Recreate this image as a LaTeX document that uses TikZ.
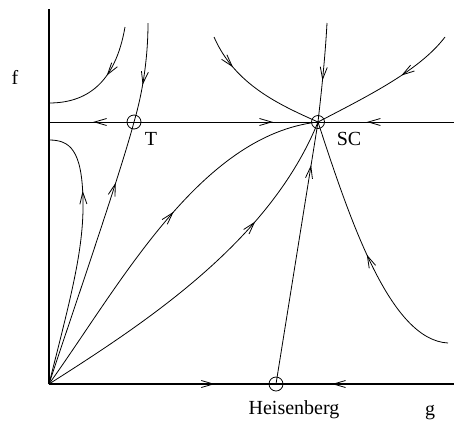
\documentclass[tikz,border=0pt]{standalone}
\usepackage{fontspec}
\setmainfont{Liberation Serif}
\usetikzlibrary{arrows.meta, decorations.markings}

\begin{document}
\begin{tikzpicture}[
    x=1pt, y=-1pt,
    axis/.style={line width=1.4pt},
    flow/.style={line width=0.8pt},
    fixpt/.style={circle, draw, line width=0.8pt, minimum size=14pt, inner sep=0pt},
    lbl/.style={font=\fontsize{20}{24}\selectfont, anchor=base, inner sep=0pt},
    arr/.style={postaction={decorate}, decoration={markings, mark=at position #1 with {\arrow{Straight Barb[length=12pt, width=7pt, line width=0.8pt]}}}}
  ]
  \useasboundingbox (0,0) rectangle (454,424);

  % fixed points
  \node[fixpt] (T) at (134,122) {};
  \node[fixpt, minimum size=13pt] (SC) at (318,122) {};
  \node[fixpt] (H) at (276,384) {};

  \coordinate (O) at (49,384);
  \coordinate (ftop) at (49,9);
  \coordinate (gend) at (454,384);
  \coordinate (lineL) at (49,122);
  \coordinate (lineR) at (454,122);

  % axes
  \draw[axis] (ftop) -- (O);
  \draw[axis, arr=0.73] (O) -- (H.center);
  \draw[axis, arr=0.685] (gend) -- (H.center);

  % horizontal line through T and SC
  \draw[flow, arr=0.48] (T.center) -- (lineL);
  \draw[flow, arr=0.755] (T.center) -- (SC.center);
  \draw[flow, arr=0.64] (lineR) -- (SC.center);

  % left hyperbolas
  \coordinate (a1) at (125,27);
  \coordinate (a2) at (49,103);
  \draw[flow, arr=0.44] (a1) .. controls (115,85) and (85,103) .. (a2);
  \coordinate (b0) at (83,200);
  \coordinate (b1) at (49,140);
  \draw[flow, arr=0.74] (O) .. controls (70,300) and (84,250) .. (b0)
    .. controls (82,150) and (70,140) .. (b1);

  % separatrix through T
  \coordinate (c1) at (148,23);
  \draw[flow, arr=0.62] (c1) .. controls (148,60) and (142,95) .. (T.center);
  \draw[flow, arr=0.77] (O) .. controls (70,320) and (120,175) .. (T.center);

  % flows into SC
  \draw[flow, arr=0.55] (O) .. controls (120,285) and (200,135) .. (SC.center);
  \draw[flow, arr=0.69] (O) .. controls (150,320) and (270,240) .. (SC.center);
  \draw[flow, arr=0.836] (H.center) -- (SC.center);
  \coordinate (d1) at (448,343);
  \draw[flow, arr=0.47] (d1) .. controls (390,340) and (350,220) .. (SC.center);
  \coordinate (e1) at (214,37);
  \draw[flow, arr=0.26] (e1) .. controls (235,85) and (280,105) .. (SC.center);
  \coordinate (e2) at (327,23);
  \draw[flow, arr=0.58] (e2) .. controls (325,60) and (321,95) .. (SC.center);
  \coordinate (e3) at (445,37);
  \draw[flow, arr=0.38] (e3) .. controls (420,70) and (370,95) .. (SC.center);

  % labels
  \node[lbl] (Tl) at (151,145) {T};
  \node[lbl] (SCl) at (349,145) {SC};
  \node[lbl] (Hl) at (294,414) {Heisenberg};
  \node[lbl] (gl) at (430,415) {g};
  \node[lbl] (fl) at (15,84) {f};
\end{tikzpicture}
\end{document}
